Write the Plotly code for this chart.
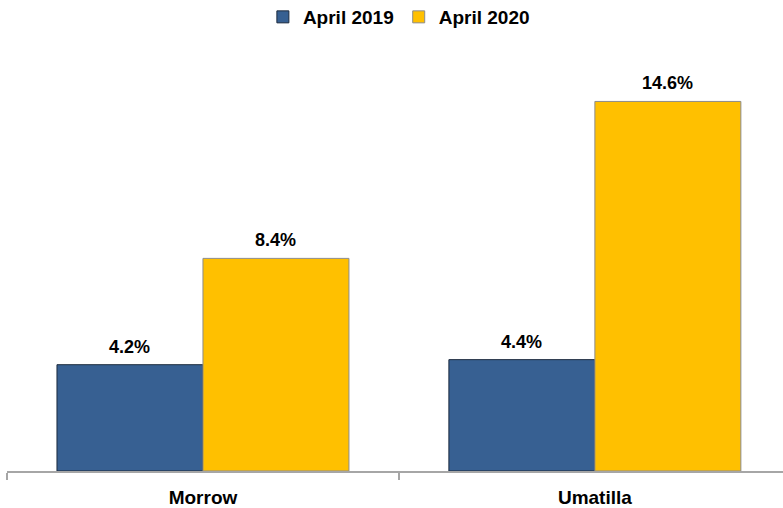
import plotly.graph_objects as go

categories = ["Morrow", "Umatilla"]
series_names = ["April 2019", "April 2020"]
values_2019 = [4.2, 4.4]
values_2020 = [8.4, 14.6]
labels_2019 = ["4.2%", "4.4%"]
labels_2020 = ["8.4%", "14.6%"]

x_pos = list(range(len(categories)))
font_family = "Liberation Sans, Arial, sans-serif"
bargap = 0.255
bar_w = (1 - bargap) / 2

fig = go.Figure()
fig.add_trace(go.Bar(
    x=x_pos, y=values_2019, name="<b>%s</b>" % series_names[0],
    marker=dict(color="#376092", line=dict(color="#1c2a3d", width=1)),
))
fig.add_trace(go.Bar(
    x=x_pos, y=values_2020, name="<b>%s</b>" % series_names[1],
    marker=dict(color="#FFC000", line=dict(color="#8c8c8c", width=1)),
))

annotations = []
for vals, labs, off in [(values_2019, labels_2019, -bar_w / 2), (values_2020, labels_2020, bar_w / 2)]:
    for i, (v, t) in enumerate(zip(vals, labs)):
        annotations.append(dict(
            x=x_pos[i] + off, y=v, xref="x", yref="y", text="<b>%s</b>" % t,
            showarrow=False, yanchor="bottom", yshift=6,
            font=dict(family=font_family, size=18, color="#000000"),
        ))

fig.update_layout(
    width=783, height=508,
    margin=dict(l=7, r=0, t=66, b=37),
    paper_bgcolor="white", plot_bgcolor="white",
    barmode="group", bargap=bargap, bargroupgap=0,
    font=dict(family=font_family, size=18, color="#000000"),
    showlegend=True,
    legend=dict(orientation="h", x=0.505, xanchor="center", y=1 - 17 / 508, yanchor="middle",
                yref="container", font=dict(family=font_family, size=19, color="#000000"),
                itemwidth=30, traceorder="normal"),
    xaxis=dict(
        range=[-0.5, 1.48], tickvals=x_pos, ticktext=["<b>%s</b>" % c for c in categories],
        ticks="", showline=True, linecolor="#a6a6a6", linewidth=1.5,
        showgrid=False, zeroline=False, ticklabelstandoff=8,
        tickfont=dict(family=font_family, size=19, color="#000000"),
        minor=dict(tickvals=[-0.5, 0.5, 1.5], ticks="outside", ticklen=7,
                   tickcolor="#a6a6a6", tickwidth=1.5, showgrid=False),
    ),
    yaxis=dict(range=[0, 16], visible=False, showgrid=False, zeroline=False),
    annotations=annotations,
)

fig.write_html("out.html", config={"displayModeBar": False},
               post_script="document.body.style.margin='0';")
